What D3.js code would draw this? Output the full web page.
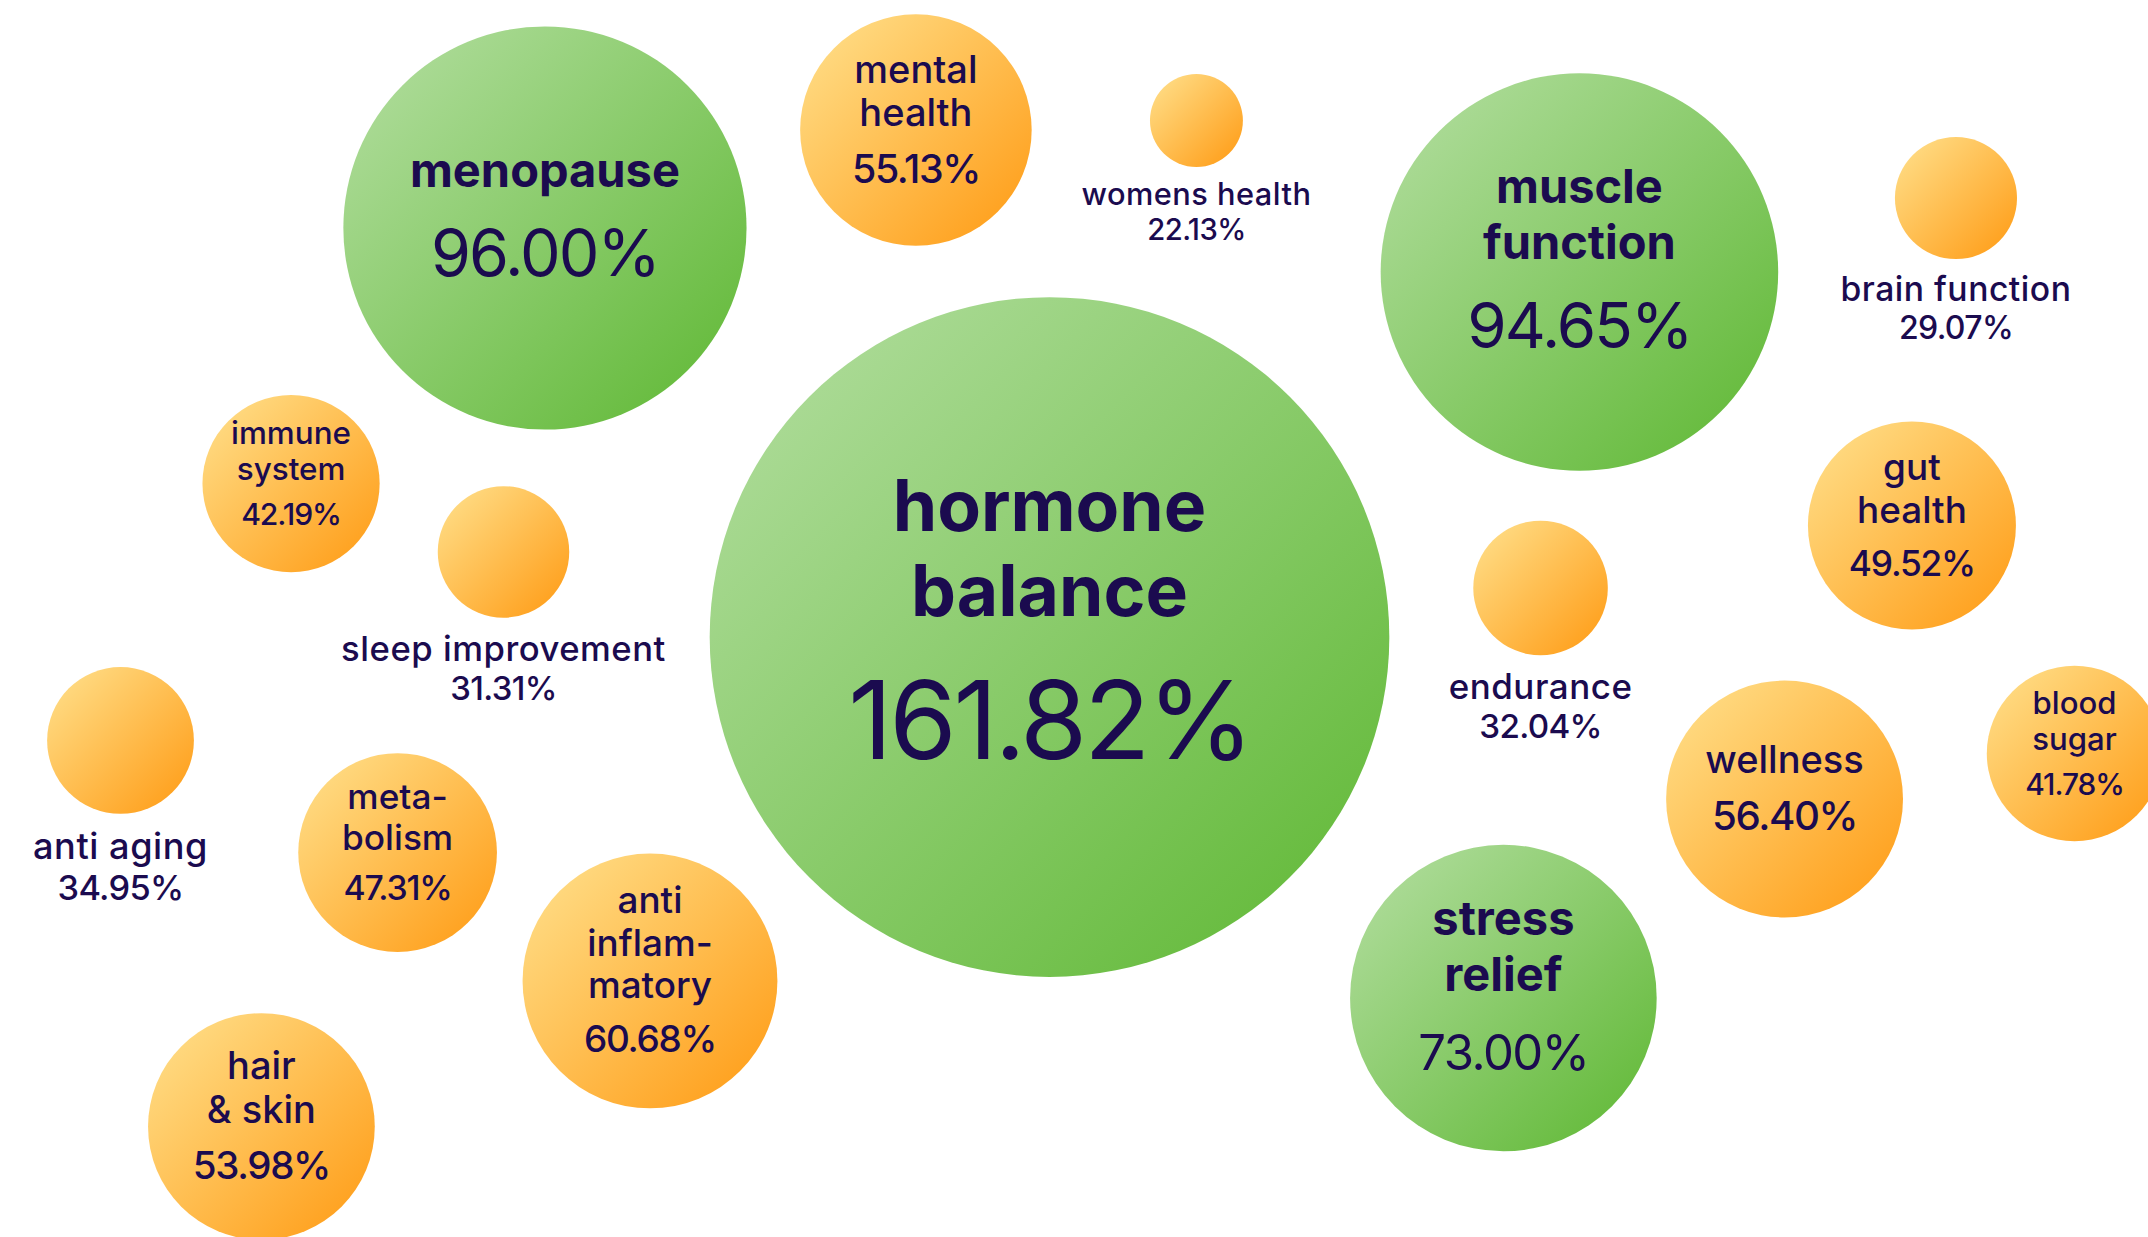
<!DOCTYPE html>
<html>
<head>
<meta charset="utf-8">
<title>Benefit mentions</title>
<script src="https://cdn.jsdelivr.net/npm/d3@7"></script>
<style>
  html, body { margin: 0; padding: 0; background: #ffffff; overflow: hidden; }
  svg { display: block; }
  text { font-family: "Inter", "Open Sans", "DejaVu Sans", sans-serif; }
</style>
</head>
<body>
<div id="chart"></div>
<script>
// Benefit categories and their share of mentions (%)
const categories = [
  "hormone balance", "menopause", "muscle function", "stress relief",
  "mental health", "womens health", "brain function", "gut health",
  "endurance", "wellness", "blood sugar", "immune system",
  "sleep improvement", "anti aging", "metabolism", "anti inflammatory",
  "hair & skin"
];
const values = [
  161.82, 96.00, 94.65, 73.00,
  55.13, 22.13, 29.07, 49.52,
  32.04, 56.40, 41.78, 42.19,
  31.31, 34.95, 47.31, 60.68,
  53.98
];
// Label text, broken into lines as printed
const labelLines = [
  ["hormone", "balance"], ["menopause"], ["muscle", "function"], ["stress", "relief"],
  ["mental", "health"], ["womens health"], ["brain function"], ["gut", "health"],
  ["endurance"], ["wellness"], ["blood", "sugar"], ["immune", "system"],
  ["sleep improvement"], ["anti aging"], ["meta-", "bolism"], ["anti", "inflam-", "matory"],
  ["hair", "& skin"]
];

// Bubble centres on the canvas, as fractions of width / height
const layoutX = [0.4886, 0.2537, 0.7353, 0.6999, 0.4264, 0.5570, 0.9106, 0.8901,
                 0.7172, 0.8308, 0.9658, 0.1355, 0.2344, 0.0561, 0.1851, 0.3026, 0.1217];
const layoutY = [0.5150, 0.1843, 0.2199, 0.8068, 0.1051, 0.0974, 0.1601, 0.4248,
                 0.4753, 0.6459, 0.6091, 0.3909, 0.4462, 0.5986, 0.6892, 0.7930, 0.9107];

const W = 2148, H = 1237;
const INK = "#1b0b4f";

const data = categories.map((name, i) => ({
  name, value: values[i], lines: labelLines[i], fx: layoutX[i], fy: layoutY[i]
}));

const x = d3.scaleLinear().domain([0, 1]).range([0, W]);
const y = d3.scaleLinear().domain([0, 1]).range([0, H]);
// Bubble radius grows linearly with the share
const r = d3.scaleLinear().domain([0, 100]).range([0, 210]);

const svg = d3.select("#chart").append("svg")
  .attr("width", W).attr("height", H)
  .attr("viewBox", `0 0 ${W} ${H}`);

const defs = svg.append("defs");
function gradient(id, light, dark) {
  const g = defs.append("linearGradient").attr("id", id)
    .attr("x1", 0).attr("y1", 0).attr("x2", 1).attr("y2", 1);
  g.append("stop").attr("offset", 0.15).attr("stop-color", light);
  g.append("stop").attr("offset", 0.85).attr("stop-color", dark);
}
gradient("g-green", "#a8d992", "#6abd42");
gradient("g-orange", "#ffd77c", "#ffa424");

const fmt = v => v.toFixed(2) + "%";
const isMajor = d => d.value >= 70;     // green bubbles
const isInside = d => d.value >= 40;    // label printed inside the bubble

const nodes = svg.append("g").selectAll("g.bubble")
  .data(data).join("g")
  .attr("class", "bubble")
  .attr("transform", d => `translate(${x(d.fx)},${y(d.fy)})`);

nodes.append("circle")
  .attr("r", d => r(d.value))
  .attr("fill", d => isMajor(d) ? "url(#g-green)" : "url(#g-orange)");

nodes.each(function (d) {
  const g = d3.select(this);
  const rad = r(d.value);
  const n = d.lines.length;

  if (isInside(d)) {
    const major = isMajor(d);
    let L, N, gap, numGap, numSpacing;
    if (major) {
      L = Math.max(47, 0.21 * rad);
      N = 0.32 * rad;
      gap = 1.19 * L;
      numGap = 1.0 * L + 0.66 * N;
      numSpacing = "-0.03em";
    } else {
      L = Math.min(0.355 * rad, 38) * (n >= 3 ? 0.97 : 1);
      N = Math.min(0.34 * rad, 43) * (n >= 3 ? 0.86 : 1);
      gap = 1.15 * L;
      numGap = 0.86 * L + 0.6 * N;
      numSpacing = "-0.035em";
    }
    const blockH = 0.74 * L + (n - 1) * gap + numGap;
    const mid = -(8 + 0.03 * rad);
    const first = mid - blockH / 2 + 0.74 * L;

    // Multi-line caption kept in one text element
    const label = g.append("text")
      .attr("class", "label")
      .attr("text-anchor", "middle")
      .attr("y", first)
      .attr("font-size", L)
      .attr("font-weight", major ? 700 : 500)
      .attr("fill", INK);
    label.selectAll("tspan").data(d.lines).join("tspan")
      .attr("x", 0)
      .attr("y", (t, i) => first + i * gap)
      .text(t => t);

    g.append("text")
      .attr("class", "value")
      .attr("text-anchor", "middle")
      .attr("y", first + (n - 1) * gap + numGap)
      .attr("font-size", N)
      .attr("font-weight", major ? 400 : 500)
      .attr("letter-spacing", numSpacing)
      .attr("fill", INK)
      .text(fmt(d.value));
  } else {
    // Small bubbles carry their caption underneath
    const F = Math.min(37, 0.2 * rad + 21.5);
    const base = rad + 1.25 * F;
    g.append("text")
      .attr("class", "label")
      .attr("text-anchor", "middle")
      .attr("y", base)
      .attr("font-size", F)
      .attr("font-weight", 500)
      .attr("letter-spacing", "0.015em")
      .attr("fill", INK)
      .text(d.lines.join(" "));
    g.append("text")
      .attr("class", "value")
      .attr("text-anchor", "middle")
      .attr("y", base + 1.13 * F)
      .attr("font-size", F * 0.95)
      .attr("font-weight", 500)
      .attr("letter-spacing", "-0.02em")
      .attr("fill", INK)
      .text(fmt(d.value));
  }
});
</script>
</body>
</html>
